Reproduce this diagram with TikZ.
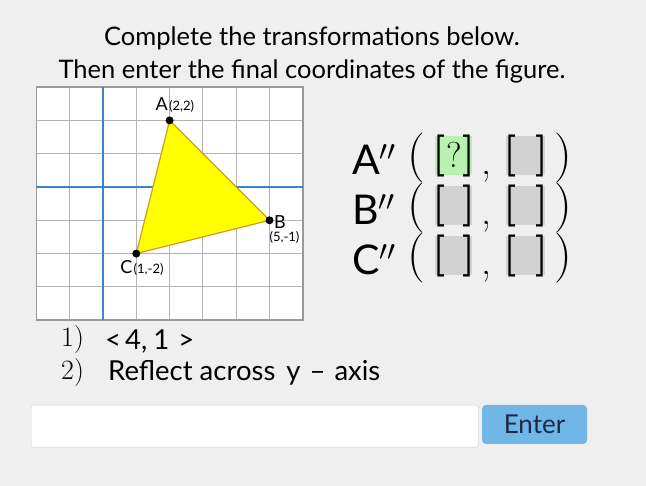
\RequirePackage{fix-cm}
\documentclass[tikz,border=0pt]{standalone}
\usepackage{fontspec}
\setmainfont{Lato}
\newfontfamily\lmfont{Latin Modern Roman}
\usetikzlibrary{positioning, calc}
\definecolor{sfondo}{HTML}{EFEFEF}
\definecolor{griglia}{HTML}{B4B4B4}
\definecolor{bordo}{HTML}{999999}
\definecolor{assi}{HTML}{3A86C8}
\definecolor{giallo}{HTML}{FFFF00}
\definecolor{bordotri}{HTML}{D49A1E}
\definecolor{verde}{HTML}{B8F2B0}
\definecolor{grigiobox}{HTML}{D2D2D2}
\definecolor{bottone}{HTML}{70B6E6}
\definecolor{testobott}{HTML}{1B2B45}
\tikzset{
  punto/.style = {circle, fill = black, inner sep = 0pt, minimum size = 8pt},
  lettera/.style = {inner sep = 0pt, font = \fontsize{18}{18}\selectfont},
  coordtxt/.style = {inner sep = 0pt, font = \fontsize{13}{13}\selectfont},
  titolo/.style = {inner sep = 0pt, font = \fontsize{25.5}{25.5}\selectfont},
  grande/.style = {inner sep = 0pt, font = \fontsize{41}{41}\selectfont},
  quadra/.style = {inner sep = 0pt, font = \lmfont\bfseries\fontsize{42}{42}\selectfont},
  tonda/.style = {inner sep = 0pt, font = \lmfont\fontsize{50}{50}\selectfont},
  virgola/.style = {inner sep = 0pt, font = \lmfont\fontsize{40}{40}\selectfont},
  domanda/.style = {inner sep = 0pt, font = \lmfont\fontsize{36}{36}\selectfont},
  numero/.style = {inner sep = 0pt, font = \lmfont\fontsize{28}{28}\selectfont},
  testo/.style = {inner sep = 0pt, font = \fontsize{27.5}{27.5}\selectfont}
}

\begin{document}
\begin{tikzpicture}[x = 1pt, y = -1pt]
    % Parametri
    \pgfmathsetmacro{\ya}{136}
    \pgfmathsetmacro{\yb}{186}
    \pgfmathsetmacro{\yc}{236}
    % Sfondo
    \useasboundingbox (0,0) rectangle (646,486);
    \fill[sfondo] (0,0) rectangle (646,486);
    % Titolo
    \node[titolo, anchor = base] (tit1) at (312,46) {Complete the transformations below.};
    \node[titolo, anchor = base] (tit2) at (312,79) {Then enter the final coordinates of the figure.};
    % Griglia e triangolo
    \begin{scope}[shift = {(103,187)}, x = 33.3pt, y = 33.3pt]
        \fill[white] (-2,-4) rectangle (6,3);
        \draw[griglia, line width = 1pt, step = 1] (-2,-4) grid (6,3);
        \draw[bordo, line width = 1.5pt] (-2,-4) rectangle (6,3);
        \draw[assi, line width = 2.6pt] (-2,0) -- (6,0);
        \draw[assi, line width = 2.6pt] (0,-4) -- (0,3);
        \coordinate (pA) at (2,2);
        \coordinate (pB) at (5,-1);
        \coordinate (pC) at (1,-2);
        \filldraw[fill = giallo, draw = bordotri, line width = 1.2pt] (pA) -- (pB) -- (pC) -- cycle;
        \node[punto] (A) at (pA) {};
        \node[punto] (B) at (pB) {};
        \node[punto] (C) at (pC) {};
        \node[lettera] (lA) at ($(A)+(-8pt,16pt)$) {A};
        \node[coordtxt, anchor = base west] (cA) at ($(lA.base east)+(1pt,0)$) {(2,2)};
        \node[lettera] (lB) at ($(B)+(10.5pt,-1.5pt)$) {B};
        \node[coordtxt] (cB) at ($(B)+(15pt,-17pt)$) {(5,-1)};
        \node[lettera] (lC) at ($(C)+(-10pt,-13.5pt)$) {C};
        \node[coordtxt, anchor = base west] (cC) at ($(lC.base east)+(1pt,0)$) {(1,-2)};
    \end{scope}
    % Riga A''
    \node[grande, anchor = base west] (rA) at (352,{\ya+39}) {A$''$};
    \node[tonda, anchor = north west] (apA) at (407,{\ya-3}) {(};
    \fill[verde] (435,\ya) rectangle (472,{\ya+39});
    \node[domanda] (qA) at (454,{\ya+19}) {?};
    \node[quadra, anchor = north west] (a1A) at (432,{\ya-1}) {[};
    \node[quadra, anchor = north east] (c1A) at (476,{\ya-1}) {]};
    \node[virgola, anchor = base west] (vA) at (481,{\ya+39}) {,};
    \fill[grigiobox] (506,\ya) rectangle (545,{\ya+39});
    \node[quadra, anchor = north west] (a2A) at (503,{\ya-1}) {[};
    \node[quadra, anchor = north east] (c2A) at (549,{\ya-1}) {]};
    \node[tonda, anchor = north east] (cpA) at (572,{\ya-3}) {)};
    % Riga B''
    \node[grande, anchor = base west] (rB) at (352,{\yb+39}) {B$''$};
    \node[tonda, anchor = north west] (apB) at (407,{\yb-3}) {(};
    \fill[grigiobox] (435,\yb) rectangle (472,{\yb+39});
    \node[quadra, anchor = north west] (a1B) at (432,{\yb-1}) {[};
    \node[quadra, anchor = north east] (c1B) at (476,{\yb-1}) {]};
    \node[virgola, anchor = base west] (vB) at (481,{\yb+39}) {,};
    \fill[grigiobox] (506,\yb) rectangle (545,{\yb+39});
    \node[quadra, anchor = north west] (a2B) at (503,{\yb-1}) {[};
    \node[quadra, anchor = north east] (c2B) at (549,{\yb-1}) {]};
    \node[tonda, anchor = north east] (cpB) at (572,{\yb-3}) {)};
    % Riga C''
    \node[grande, anchor = base west] (rC) at (352,{\yc+39}) {C$''$};
    \node[tonda, anchor = north west] (apC) at (407,{\yc-3}) {(};
    \fill[grigiobox] (435,\yc) rectangle (472,{\yc+39});
    \node[quadra, anchor = north west] (a1C) at (432,{\yc-1}) {[};
    \node[quadra, anchor = north east] (c1C) at (476,{\yc-1}) {]};
    \node[virgola, anchor = base west] (vC) at (481,{\yc+39}) {,};
    \fill[grigiobox] (506,\yc) rectangle (545,{\yc+39});
    \node[quadra, anchor = north west] (a2C) at (503,{\yc-1}) {[};
    \node[quadra, anchor = north east] (c2C) at (549,{\yc-1}) {]};
    \node[tonda, anchor = north east] (cpC) at (572,{\yc-3}) {)};
    % Trasformazioni
    \node[numero, anchor = base west] (n1) at (61,347) {1)};
    \node[testo, anchor = base west] (t1) at (105,350) {<\hspace{4pt}4,\hspace{6pt}1\hspace{9pt}>};
    \node[numero, anchor = base west] (n2) at (61,380) {2)};
    \node[testo, anchor = base west] (t2) at (108,381) {Reflect across\hspace{11pt}y\hspace{9pt}–\hspace{9pt}axis};
    % Campo e bottone
    \node[draw = black!20, fill = white, rounded corners = 2pt, minimum width = 447pt, minimum height = 42pt, anchor = north west] (campo) at (31,405) {};
    \node[fill = bottone, text = testobott, rounded corners = 4pt, minimum width = 105pt, minimum height = 39pt, font = \fontsize{26}{26}\selectfont] (invio) at (534.5,424.5) {Enter};
\end{tikzpicture}
\end{document}
